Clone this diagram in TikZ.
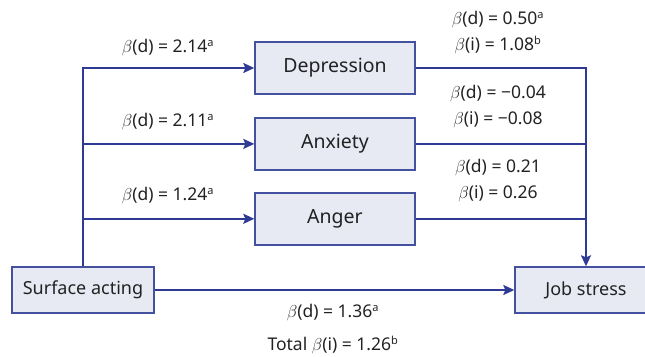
\documentclass[tikz,border=0pt]{standalone}
\usepackage{fontspec}
\setmainfont{Noto Sans}
\usepackage{xcolor}
\usetikzlibrary{positioning,arrows.meta,calc}
\definecolor{pathblue}{HTML}{2E3A94}
\definecolor{boxline}{HTML}{44519F}
\definecolor{boxfill}{HTML}{E7EAF3}
\definecolor{txt}{HTML}{222222}
\tikzset{
  var/.style  ={rectangle, draw=boxline, line width=1.4pt, fill=boxfill,
                align=center, text=txt, font=\fontsize{19.5}{22}\selectfont,
                minimum height=52pt, minimum width=160pt},
  ext/.style  ={var, font=\fontsize{18}{20}\selectfont,
                minimum height=46pt, minimum width=142pt},
  coef/.style ={align=center, text=txt, inner sep=1pt,
                font=\fontsize{17.5}{26}\selectfont},
  path/.style ={draw=pathblue, line width=1.7pt},
  arr/.style  ={path, -{Stealth[length=11pt, width=10pt, inset=2pt]}},
}
\newcommand{\bd}{$\beta$(d)}
\newcommand{\bi}{$\beta$(i)}
\newcommand{\supa}{\textsuperscript{\fontsize{11}{11}\selectfont a}}
\newcommand{\supb}{\textsuperscript{\fontsize{11}{11}\selectfont b}}
\begin{document}
\begin{tikzpicture}[x=1pt, y=-1pt]
  \useasboundingbox (0,0) rectangle (645,356);

  % variables
  \node[ext] (surf) at (83,290) {Surface acting};
  \node[var] (dep) at (335,68) {Depression};
  \node[var, below=22.5pt of dep] (anx) {Anxiety};
  \node[var, below=21.5pt of anx] (ang) {Anger};
  \node[ext] (job) at (586,290) {Job stress};

  % paths through the mediators
  \draw[arr] (surf.north) |- (dep.west);
  \draw[arr] (surf.north |- anx.west) -- (anx.west);
  \draw[arr] (surf.north |- ang.west) -- (ang.west);
  \draw[arr] (dep.east) -| (job.north);
  \draw[path] (anx.east) -- (anx.east -| job.north);
  \draw[path] (ang.east) -- (ang.east -| job.north);
  \draw[arr] (surf.east) -- (job.west);

  % coefficients
  \node[coef] (c1) at (168,48) {\bd{} = 2.14\supa};
  \node[coef] (c2) at (168,122) {\bd{} = 2.11\supa};
  \node[coef] (c3) at (168,196) {\bd{} = 1.24\supa};
  \node[coef] (c4) at (498,33) {\bd{} = 0.50\supa\\\bi{} = 1.08\supb};
  \node[coef] (c5) at (498,107) {\bd{} = −0.04\\\bi{} = −0.08};
  \node[coef] (c6) at (498,181) {\bd{} = 0.21\\\bi{} = 0.26};
  \node[coef] (c7) at (333,313) {\bd{} = 1.36\supa};
  \node[coef] (c8) at (333,345) {Total \bi{} = 1.26\supb};
\end{tikzpicture}
\end{document}
